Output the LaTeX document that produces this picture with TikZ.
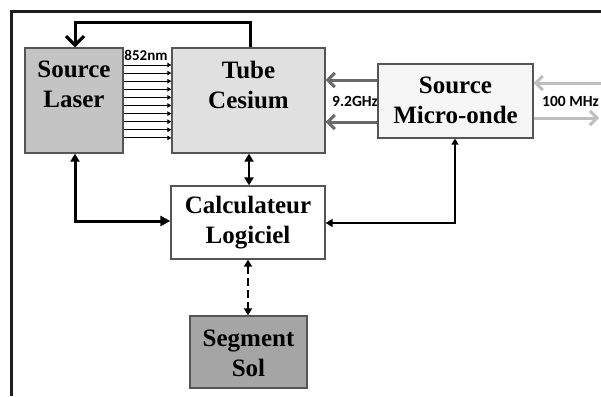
\documentclass[tikz,border=0pt]{standalone}
\usepackage{fontspec}
\setmainfont{Liberation Serif}
\newfontfamily\lblfont{Carlito}
\usetikzlibrary{arrows.meta}
\definecolor{boxline}{RGB}{85,85,85}
\definecolor{laserfill}{RGB}{196,196,196}
\definecolor{tubefill}{RGB}{224,224,224}
\definecolor{mwfill}{RGB}{246,246,246}
\definecolor{solfill}{RGB}{165,165,165}
\definecolor{ghzgray}{RGB}{105,105,105}
\definecolor{mhzgray}{RGB}{190,190,190}
\definecolor{framecol}{RGB}{30,30,30}
\begin{document}
\begin{tikzpicture}[x=1pt,y=-1pt,
  box/.style={draw=boxline, line width=1.3pt, inner sep=0pt},
  txt/.style={font=\bfseries\fontsize{25}{30}\selectfont, align=center, inner sep=0pt},
  lbl/.style={font=\lblfont\bfseries\fontsize{15.5}{16}\selectfont, inner sep=0pt},
  thickconn/.style={line width=3pt, draw=black},
  medconn/.style={line width=2.4pt, draw=black},
  thinconn/.style={line width=2pt, draw=black},
  beam/.style={line width=0.9pt, draw=black, -{Triangle[length=4pt,width=4.5pt]}},
  bigtip/.style={-{Straight Barb[length=9pt,width=18pt,line width=3.2pt]}},
  ghz/.style={line width=3pt, draw=ghzgray, -{Straight Barb[length=7pt,width=14pt]}},
  mhz/.style={line width=3pt, draw=mhzgray, -{Straight Barb[length=7pt,width=14pt]}}
]
\useasboundingbox (0,0) rectangle (601,396);
\fill[white] (0,0) rectangle (601,396);
% frame
\draw[framecol, line width=2.6pt] (11.3,396) -- (11.3,11.3) -- (601,11.3);

% boxes
\node[box, fill=laserfill, minimum width=98pt, minimum height=105pt] (laser) at (74,100.5) {};
\node[txt] (lasertxt) at (74,84.5) {Source\\Laser};
\node[box, fill=tubefill, minimum width=153pt, minimum height=105pt] (tube) at (248.5,100.5) {};
\node[txt] (tubetxt) at (248.5,84.5) {Tube\\Cesium};
\node[box, fill=mwfill, minimum width=155pt, minimum height=74pt] (mw) at (455.5,101) {};
\node[txt] (mwtxt) at (455.5,100) {Source\\Micro-onde};
\node[box, fill=white, minimum width=154pt, minimum height=73pt] (calc) at (248,222.5) {};
\node[txt] (calctxt) at (248,223) {Calculateur\\Logiciel};
\node[box, fill=solfill, minimum width=117pt, minimum height=72pt] (sol) at (248.5,352) {};
\node[txt] (soltxt) at (248.5,353) {Segment\\Sol};

% top feedback
\coordinate (fbA) at (250,23);
\coordinate (fbB) at (75,23);
\draw[thickconn, bigtip] (tube.north -| fbA) -- (fbA) -- (fbB) -- (laser.north -| fbB);

% laser <-> calculateur
\coordinate (lc) at (75,221);
\draw[thickconn, {Triangle[length=8pt,width=9pt]}-{Triangle[length=10pt,width=10pt]}]
  (laser.south -| lc) -- (lc) -- (calc.west |- lc);

% tube <-> calculateur
\draw[medconn, {Triangle[length=8pt,width=9pt]}-{Triangle[length=8pt,width=9pt]}]
  (tube.south -| 249,0) -- (calc.north -| 249,0);

% micro-onde <-> calculateur
\coordinate (mc) at (455,223);
\draw[thinconn, {Triangle[length=6pt,width=7pt]}-{Triangle[length=7pt,width=8pt]}]
  (mw.south -| mc) -- (mc) -- (calc.east |- mc);

% calculateur <-> segment sol
\draw[medconn, line width=2.6pt, dash pattern=on 8pt off 4pt, {Triangle[length=7pt,width=8pt]}-{Triangle[length=7pt,width=8pt]}]
  (calc.south -| 248,0) -- (sol.north -| 248,0);

% laser beams
\foreach \i in {0,...,9}{
  \draw[beam] (laser.east |- 0,{65+8.1*\i}) -- (tube.west |- 0,{65+8.1*\i});
}
\node[lbl, font=\lblfont\bfseries\fontsize{15}{16}\selectfont] (nm) at (146,55) {852nm};

% 9.2 GHz
\draw[ghz] (mw.west |- 0,80) -- (tube.east |- 0,80);
\draw[ghz] (mw.west |- 0,122) -- (tube.east |- 0,122);
\node[lbl] (ghzlbl) at (355,101) {9.2GHz};

% 100 MHz
\coordinate (inR) at (605,83);
\coordinate (outR) at (599,118);
\draw[mhz] (inR) -- (mw.east |- inR);
\draw[mhz] (mw.east |- outR) -- (outR);
\node[lbl, anchor=west] (mhzlbl) at (542,101) {100 MHz};
\end{tikzpicture}
\end{document}
